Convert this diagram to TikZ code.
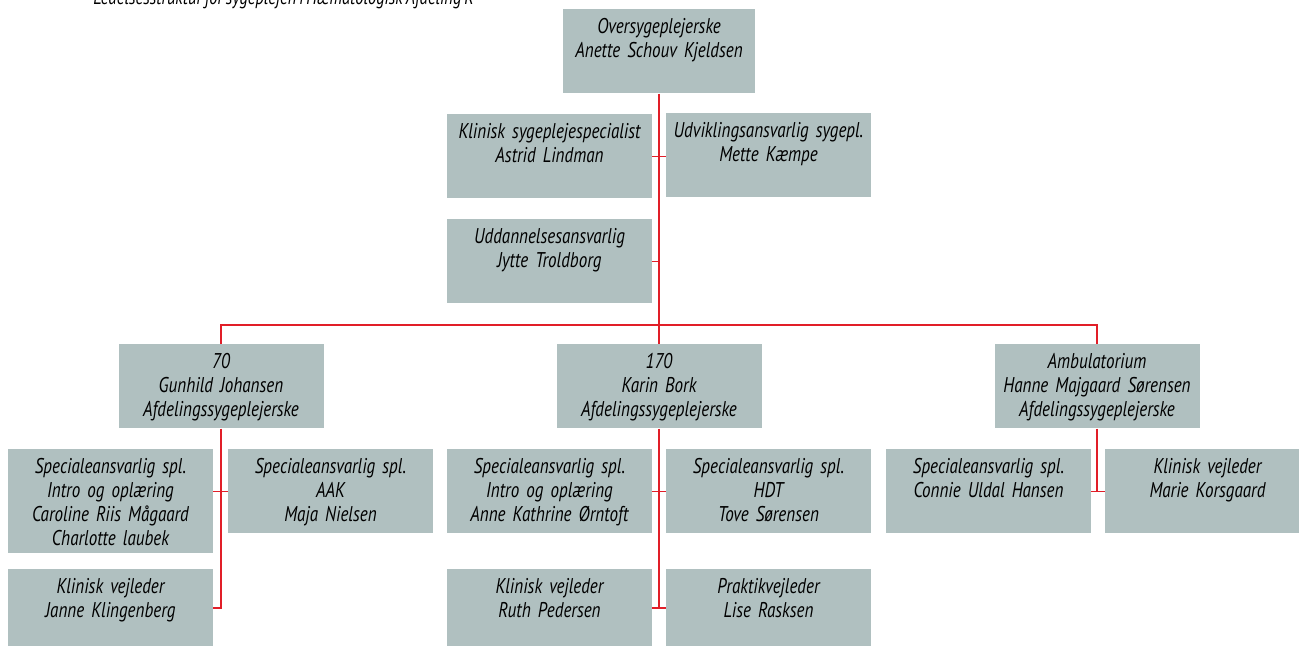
\documentclass[tikz,border=0pt]{standalone}
\usepackage{fontspec}
\setmainfont{PT Sans}[FakeStretch=0.8]

\definecolor{boxgray}{RGB}{176,192,192}
\definecolor{linkred}{RGB}{225,30,40}

\newcommand{\orgfont}[1]{\fontsize{#1}{18pt}\selectfont\itshape\spaceskip 0.14em\relax}

\tikzset{
  unit/.style={fill=boxgray, anchor=north, text width=153.75pt, align=center,
    inner xsep=0pt, inner ysep=5pt, text height=13.5pt, text depth=39.5pt,
    font=\orgfont{16pt}},
  tallunit/.style={unit, text depth=54.5pt},
  lowunit/.style={unit, text depth=34.25pt},
  link/.style={draw=linkred, line width=1.1pt},
}

\begin{document}
\begin{tikzpicture}[x=0.75pt, y=-0.75pt]
    \useasboundingbox (0,0) rectangle (1299,647);
    \clip (0,0) rectangle (1299,647);

    % titel
    \node[anchor=base west, inner sep=0pt, font=\orgfont{15.5pt}] (title) at (93,4) {Ledelsesstruktur for sygeplejen i Hæmatologisk Afdeling R};

    % ledelse
    \node[unit, text width=144pt] (top) at (659,9) {Oversygeplejerske\\Anette Schouv Kjeldsen};
    \node[unit] (kls) at (549.5,114) {Klinisk sygeplejespecialist\\Astrid Lindman};
    \node[unit] (udv) at (768.5,113) {Udviklingsansvarlig sygepl.\\Mette Kæmpe};
    \node[unit] (udd) at (549.5,219) {Uddannelsesansvarlig\\Jytte Troldborg};

    % afsnit
    \node[unit] (gj) at (221,344) {70\\Gunhild Johansen\\Afdelingssygeplejerske};
    \node[unit] (kb) at (659,344) {170\\Karin Bork\\Afdelingssygeplejerske};
    \node[unit] (amb) at (1097,344) {Ambulatorium\\Hanne Majgaard Sørensen\\Afdelingssygeplejerske};

    % afsnit 70
    \node[tallunit] (cr) at (110.5,449) {Specialeansvarlig spl.\\Intro og oplæring\\Caroline Riis Mågaard\\Charlotte laubek};
    \node[unit] (aak) at (330.5,449) {Specialeansvarlig spl.\\AAK\\Maja Nielsen};
    \node[lowunit] (jk) at (110.5,569) {Klinisk vejleder\\Janne Klingenberg};

    % afsnit 170
    \node[unit] (ako) at (549.5,449) {Specialeansvarlig spl.\\Intro og oplæring\\Anne Kathrine Ørntoft};
    \node[unit] (hdt) at (768.5,449) {Specialeansvarlig spl.\\HDT\\Tove Sørensen};
    \node[lowunit] (rp) at (549.5,569) {Klinisk vejleder\\Ruth Pedersen};
    \node[lowunit] (lr) at (768.5,569) {Praktikvejleder\\Lise Rasksen};

    % ambulatorium
    \node[unit] (cuh) at (988.5,449) {Specialeansvarlig spl.\\Connie Uldal Hansen};
    \node[unit] (mk) at (1207.5,449) {Klinisk vejleder\\Marie Korsgaard};

    % forbindelser
    \draw[link] (top.south) -- (kb.north);
    \draw[link] (kls.east) -- (kls.east -| udv.west);
    \draw[link] (udd.east) -- (udd.east -| top.south);
    \draw[link] (gj.north) -- ++(0,-19) -| (amb.north);

    \draw[link] (gj.south) -- (gj.south |- jk.east) -- (jk.east);
    \draw[link] (cr.east |- aak.west) -- (aak.west);

    \draw[link] (kb.south) -- (kb.south |- rp.east);
    \draw[link] (ako.east) -- (hdt.west);
    \draw[link] (rp.east) -- (lr.west);

    \draw[link] (amb.south) -- (amb.south |- cuh.east);
    \draw[link] (cuh.east) -- (mk.west);
\end{tikzpicture}
\end{document}
